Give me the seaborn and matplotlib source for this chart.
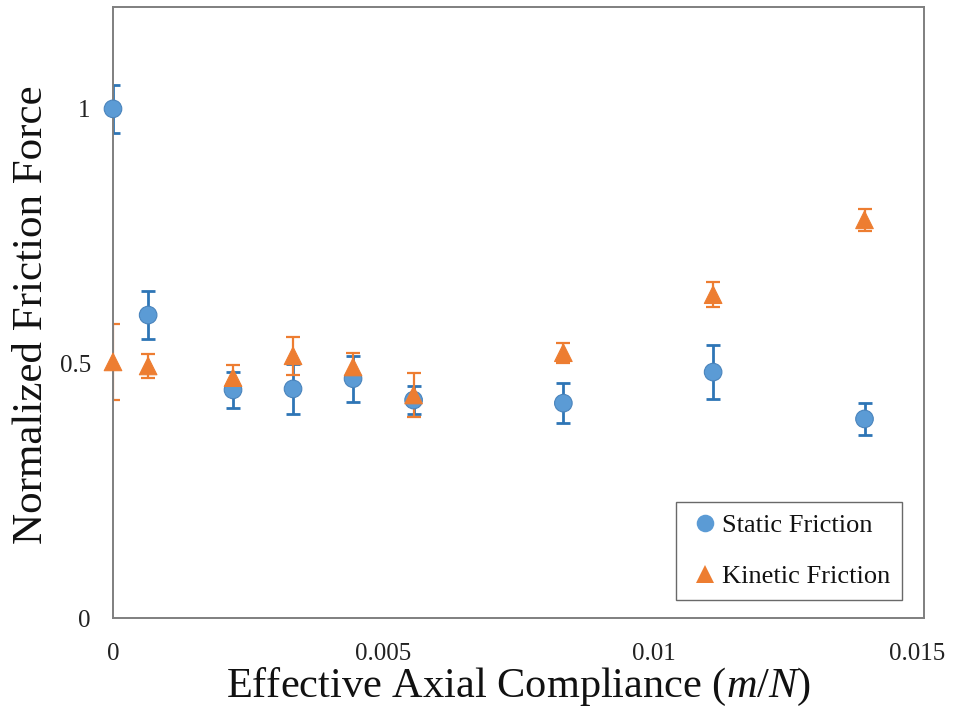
import matplotlib
matplotlib.use("Agg")
import matplotlib.pyplot as plt
import matplotlib.transforms as mtransforms
import seaborn as sns
import pandas as pd
from matplotlib.ticker import MultipleLocator, FixedLocator, FixedFormatter

# Effective axial compliance (m/N)
compliance = [0.0, 0.00065, 0.00222, 0.00333, 0.00444, 0.00556, 0.00833, 0.0111, 0.0139]

# Normalized friction force and error
static_mean = [1.0, 0.595, 0.448, 0.450, 0.470, 0.428, 0.422, 0.483, 0.391]
static_err = [0.047, 0.048, 0.035, 0.049, 0.045, 0.028, 0.039, 0.053, 0.032]
kinetic_mean = [0.503, 0.495, 0.472, 0.515, 0.493, 0.438, 0.521, 0.635, 0.782]
kinetic_err = [0.074, 0.024, 0.025, 0.037, 0.028, 0.043, 0.020, 0.024, 0.022]

series_names = ["Static Friction", "Kinetic Friction"]
x_ticks = [0, 0.005, 0.01, 0.015]
x_tick_labels = ["0", "0.005", "0.01", "0.015"]
y_ticks = [0, 0.5, 1]
y_tick_labels = ["0", "0.5", "1"]

blue = "#5B9BD5"
blue_edge = "#4A84BC"
blue_dark = "#2E75B6"
orange = "#ED7D31"

sns.set_theme(style="white")
plt.rcParams["font.family"] = ["Liberation Serif", "DejaVu Serif"]
plt.rcParams["mathtext.fontset"] = "custom"
plt.rcParams["mathtext.rm"] = "Liberation Serif"
plt.rcParams["mathtext.it"] = "Liberation Serif:italic"

df = pd.DataFrame({
    "compliance": compliance * 2,
    "force": static_mean + kinetic_mean,
    "type": [series_names[0]] * len(compliance) + [series_names[1]] * len(compliance),
})

fig = plt.figure(figsize=(9.56, 7.08), dpi=100)
ax = fig.add_axes([0.1182, 0.1271, 0.8483, 0.8630])

# error bars underneath the markers
ax.errorbar(compliance, static_mean, yerr=static_err, fmt="none",
            ecolor=blue_dark, elinewidth=2.0, capsize=5, capthick=2.0, zorder=2)
ax.errorbar(compliance, kinetic_mean, yerr=kinetic_err, fmt="none",
            ecolor=orange, elinewidth=1.6, capsize=5, capthick=1.6, zorder=2)

sns.scatterplot(data=df, x="compliance", y="force", hue="type", style="type",
                hue_order=series_names, style_order=series_names,
                palette={series_names[0]: blue, series_names[1]: orange},
                markers={series_names[0]: "o", series_names[1]: "^"},
                s=160, linewidth=0, ax=ax, zorder=3, clip_on=False)
# thin darker rim on the circles
ax.collections[-1].set_edgecolors(
    [blue_edge] * len(compliance) + [orange] * len(compliance))
ax.collections[-1].set_linewidths(0.8)

ax.set_xlim(0, 0.015)
ax.set_ylim(0, 1.2)

ax.xaxis.set_major_locator(FixedLocator(x_ticks))
ax.xaxis.set_major_formatter(FixedFormatter(x_tick_labels))
ax.xaxis.set_minor_locator(MultipleLocator(0.001))
ax.yaxis.set_major_locator(FixedLocator(y_ticks))
ax.yaxis.set_major_formatter(FixedFormatter(y_tick_labels))
ax.yaxis.set_minor_locator(MultipleLocator(0.1))

spine_color = "#7F7F7F"
for sp in ax.spines.values():
    sp.set_color(spine_color)
    sp.set_linewidth(1.4)

ax.tick_params(axis="both", which="both", direction="in", color=spine_color,
               width=1.2, labelsize=18, labelcolor="#222222")
ax.tick_params(axis="both", which="major", length=0)
ax.tick_params(axis="both", which="minor", length=5)
ax.tick_params(axis="x", which="major", pad=18)
ax.tick_params(axis="y", which="major", pad=16)

# keep the last x tick label inside the figure edge
last = ax.get_xticklabels()[-1]
last.set_transform(last.get_transform()
                   + mtransforms.ScaledTranslation(-0.07, 0, fig.dpi_scale_trans))

ax.set_xlabel(r"Effective Axial Compliance ($m/N$)", fontsize=30.5, color="#111111")
ax.set_ylabel("Normalized Friction Force", fontsize=31, color="#111111")
ax.xaxis.set_label_coords(0.5, -0.079)
ax.yaxis.set_label_coords(-0.076, 0.497)

leg = ax.legend(loc="lower right", bbox_to_anchor=(0.973, 0.0295), fontsize=19,
                frameon=True, fancybox=False, edgecolor="#444444",
                handletextpad=0.0, labelspacing=1.05, borderpad=0.45,
                borderaxespad=0.0, handlelength=1.3, markerscale=1.0)
leg.get_frame().set_linewidth(1.0)
for t in leg.get_texts():
    t.set_color("#111111")

fig.savefig("out.png", dpi=100)
